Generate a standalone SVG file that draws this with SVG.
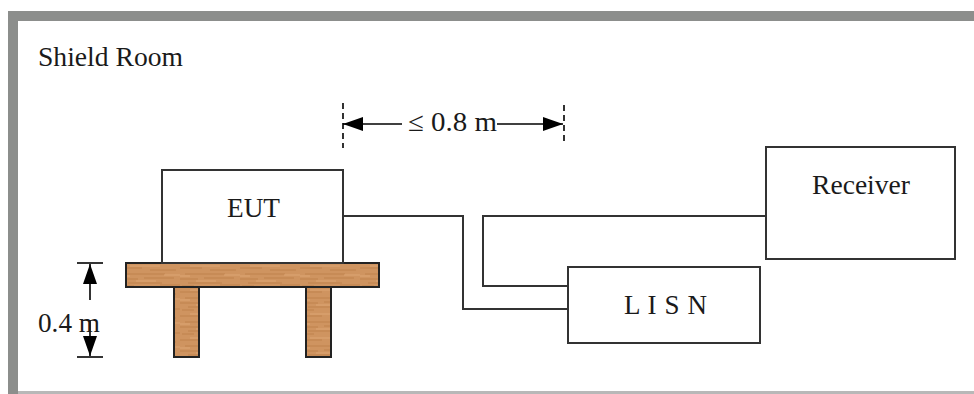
<svg xmlns="http://www.w3.org/2000/svg" width="974" height="394" viewBox="0 0 974 394">
<style>
.t{font-family:"Liberation Serif","Times New Roman",serif;font-size:27px;fill:#1a1a1a}
.box{fill:#fff;stroke:#333;stroke-width:2}
.wire{fill:none;stroke:#333;stroke-width:2}
.dim{fill:none;stroke:#000;stroke-width:1.6}
.dash{fill:none;stroke:#000;stroke-width:1.6;stroke-dasharray:6,4}
.wood{fill:url(#grain);stroke:#222;stroke-width:2}
</style>
<defs>
<pattern id="grain" patternUnits="userSpaceOnUse" width="60" height="24">
<rect width="60" height="24" fill="#cf9460"/>
<path d="M0 4h22M30 6h26M5 10h40M0 15h18M24 14h30M8 19h34M40 21h20M2 22h12" stroke="#b77a44" stroke-width="1.2" opacity="0.7"/>
<path d="M10 2h30M0 12h10M44 11h16M16 17h20" stroke="#e2ad7c" stroke-width="1.2" opacity="0.7"/>
</pattern>
<marker id="ah" viewBox="0 0 20 14" refX="20" refY="7" markerWidth="20" markerHeight="14" markerUnits="userSpaceOnUse" orient="auto">
<path d="M0 0L20 7L0 14z" fill="#000"/>
</marker>
</defs>
<rect width="974" height="394" fill="#fff"/>
<g id="frame">
<rect x="8" y="11" width="966" height="10" fill="#8c8e8c"/>
<rect x="8" y="11" width="10" height="383" fill="#8c8e8c"/>
<rect x="18" y="391" width="956" height="3" fill="#b8b8b8"/>
<text class="t" x="38" y="66" textLength="145" lengthAdjust="spacingAndGlyphs">Shield Room</text>
</g>
<g id="connectors">
<polyline class="wire" points="343,216 463,216 463,309 568,309"/>
<polyline class="wire" points="568,286 483,286 483,216 766,216"/>
</g>
<g id="table">
<rect class="wood" x="174" y="287" width="25" height="70"/>
<rect class="wood" x="306" y="287" width="25" height="70"/>
<rect class="wood" x="126" y="263" width="253" height="24"/>
</g>
<g id="eut">
<rect class="box" x="162" y="170" width="181" height="93"/>
<text class="t" x="227" y="217" textLength="53" lengthAdjust="spacingAndGlyphs">EUT</text>
</g>
<g id="receiver">
<rect class="box" x="766" y="147" width="189" height="112"/>
<text class="t" x="812" y="194" textLength="98" lengthAdjust="spacingAndGlyphs">Receiver</text>
</g>
<g id="lisn">
<rect class="box" x="568" y="267" width="192" height="76"/>
<text class="t" x="624" y="314" textLength="83">L I S N</text>
</g>
<g id="dim-distance">
<line class="dash" x1="343" y1="103" x2="343" y2="148"/>
<line class="dash" x1="564" y1="105" x2="564" y2="145"/>
<line class="dim" x1="402" y1="124" x2="343" y2="124" marker-end="url(#ah)"/>
<line class="dim" x1="497" y1="124" x2="563" y2="124" marker-end="url(#ah)"/>
<text class="t" x="408" y="131" textLength="89" lengthAdjust="spacingAndGlyphs">≤ 0.8 m</text>
</g>
<g id="dim-height">
<line class="dim" x1="77" y1="263" x2="103" y2="263"/>
<line class="dim" x1="77" y1="357" x2="103" y2="357"/>
<line class="dim" x1="90" y1="300" x2="90" y2="264" marker-end="url(#ah)"/>
<line class="dim" x1="90" y1="320" x2="90" y2="356" marker-end="url(#ah)"/>
<text class="t" x="38" y="332" textLength="62" lengthAdjust="spacingAndGlyphs">0.4 m</text>
</g>
</svg>
